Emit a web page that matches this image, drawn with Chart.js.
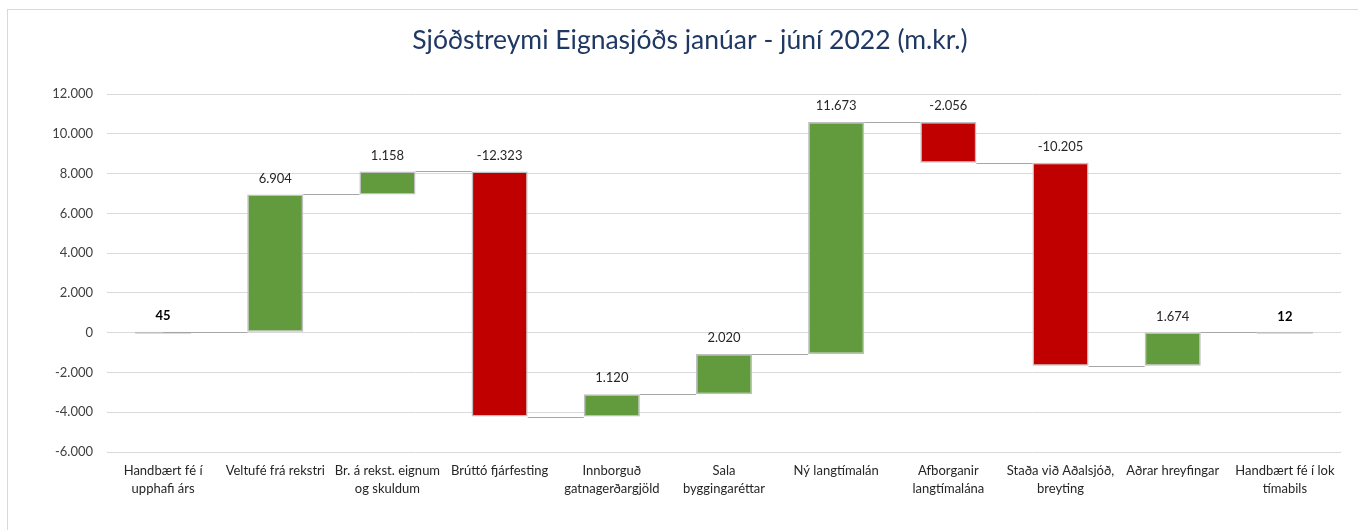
<!DOCTYPE html>
<html>
<head>
<meta charset="utf-8">
<script src="https://cdn.jsdelivr.net/npm/chart.js@4/dist/chart.umd.min.js"></script>
<style>
  html, body { margin: 0; padding: 0; background: #ffffff; }
  #wrap { width: 1358px; height: 530px; position: relative; }
</style>
</head>
<body>
<div id="wrap"><canvas id="c" width="1358" height="530"></canvas></div>
<script>
// Cash-flow waterfall, m.kr.
const categories = [
  ["Handbært fé í", "upphafi árs"],
  "Veltufé frá rekstri",
  ["Br. á rekst. eignum", "og skuldum"],
  "Brúttó fjárfesting",
  ["Innborguð", "gatnagerðargjöld"],
  ["Sala", "byggingaréttar"],
  "Ný langtímalán",
  ["Afborganir", "langtímalána"],
  ["Staða við Aðalsjóð,", "breyting"],
  "Aðrar hreyfingar",
  ["Handbært fé í lok", "tímabils"]
];
const values = [45, 6904, 1158, -12323, 1120, 2020, 11673, -2056, -10205, 1674, 12];
// "total" bars stand on zero, "step" bars float on the running balance
const kinds = ["total", "step", "step", "step", "step", "step", "step", "step", "step", "step", "total"];
const yTicks = { min: -6000, max: 12000, step: 2000 };
const titleText = "Sjóðstreymi Eignasjóðs janúar - júní 2022 (m.kr.)";

const GREEN = "#629B3E";
const RED = "#C00000";

// floating [from, to] ranges built from the running balance
const ranges = [];
let running = 0;
values.forEach((v, i) => {
  if (kinds[i] === "total") {
    ranges.push([0, v]);
    running = v;
  } else {
    ranges.push([running, running + v]);
    running += v;
  }
});

function fmt(n) {
  const s = Math.abs(n).toString().replace(/\B(?=(\d{3})+(?!\d))/g, ".");
  return (n < 0 ? "-" : "") + s;
}

const FONT = "Lato, 'Open Sans', sans-serif";

const framePlugin = {
  id: "frame",
  beforeDraw(chart) {
    const ctx = chart.ctx;
    ctx.save();
    ctx.fillStyle = "#ffffff";
    ctx.fillRect(0, 0, chart.width, chart.height);
    ctx.strokeStyle = "#D9D9D9";
    ctx.lineWidth = 1;
    ctx.strokeRect(7.5, 9.5, chart.width + 20, chart.height + 20);
    // heading
    ctx.fillStyle = "#1F3864";
    ctx.font = "26.5px " + FONT;
    ctx.textAlign = "center";
    ctx.textBaseline = "middle";
    ctx.fillText(titleText, 690, 40);
    ctx.restore();
  }
};

const connectorPlugin = {
  id: "connectors",
  afterDatasetsDraw(chart) {
    const ctx = chart.ctx;
    const meta = chart.getDatasetMeta(0);
    const y = chart.scales.y;
    ctx.save();
    ctx.strokeStyle = "#A6A6A6";
    ctx.lineWidth = 1;
    for (let i = 0; i < meta.data.length - 1; i++) {
      const a = meta.data[i], b = meta.data[i + 1];
      const level = ranges[i][1];
      const py = Math.round(y.getPixelForValue(level)) + 0.5;
      const x0 = kinds[i] === "total" ? a.x : a.x + a.width / 2;
      ctx.beginPath();
      ctx.moveTo(x0, py);
      ctx.lineTo(b.x - b.width / 2, py);
      ctx.stroke();
    }
    ctx.restore();
  }
};

const valueLabelPlugin = {
  id: "valueLabels",
  afterDatasetsDraw(chart) {
    const ctx = chart.ctx;
    const meta = chart.getDatasetMeta(0);
    const y = chart.scales.y;
    ctx.save();
    ctx.textAlign = "center";
    ctx.textBaseline = "middle";
    meta.data.forEach((bar, i) => {
      const top = Math.max(ranges[i][0], ranges[i][1]);
      const py = y.getPixelForValue(top) - 16;
      const bold = kinds[i] === "total";
      ctx.font = (bold ? "bold " : "") + "13px " + FONT;
      ctx.fillStyle = bold ? "#000000" : "#262626";
      ctx.fillText(fmt(values[i]), bar.x, py);
    });
    ctx.restore();
  }
};

new Chart(document.getElementById("c"), {
  type: "bar",
  data: {
    labels: categories,
    datasets: [{
      data: ranges,
      backgroundColor: values.map((v, i) => kinds[i] === "total" ? "#BFBFBF" : (v >= 0 ? GREEN : RED)),
      borderColor: "#BFBFBF",
      borderWidth: 1.5,
      borderSkipped: false,
      minBarLength: 2,
      categoryPercentage: 1,
      barPercentage: 0.5
    }]
  },
  options: {
    responsive: false,
    animation: false,
    layout: { padding: { left: 0, right: 17, top: 94, bottom: 0 } },
    plugins: {
      legend: { display: false },
      tooltip: { enabled: false },
      title: { display: false }
    },
    scales: {
      x: {
        grid: { display: false, drawTicks: false },
        border: { display: false },
        ticks: {
          color: "#262626",
          font: { family: FONT, size: 13, lineHeight: 1.35 },
          padding: 10,
          maxRotation: 0,
          autoSkip: false
        },
        afterFit(scale) { scale.height = 78; }
      },
      y: {
        min: yTicks.min,
        max: yTicks.max,
        grid: { color: "#D9D9D9", lineWidth: 1, drawTicks: false },
        border: { display: false },
        ticks: {
          stepSize: yTicks.step,
          color: "#404040",
          font: { family: FONT, size: 13 },
          padding: 14,
          callback: (v) => fmt(v)
        },
        afterFit(scale) { scale.width = 107; }
      }
    }
  },
  plugins: [framePlugin, connectorPlugin, valueLabelPlugin]
});
</script>
</body>
</html>
